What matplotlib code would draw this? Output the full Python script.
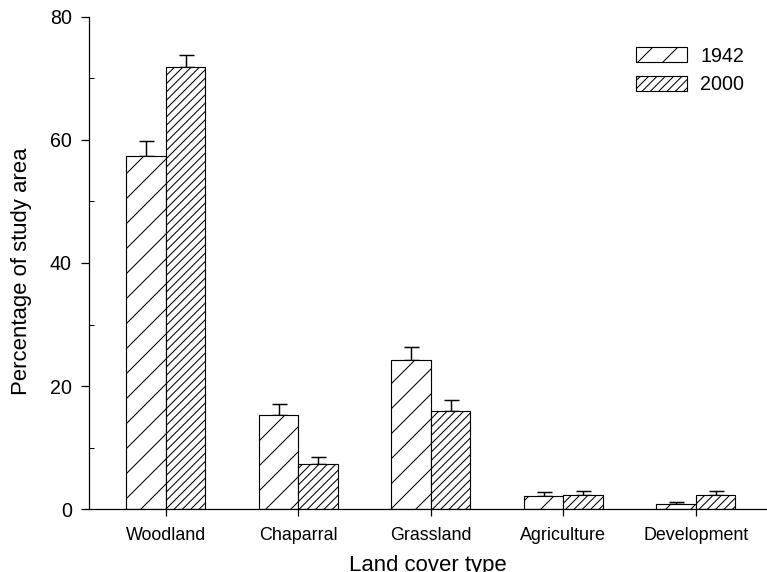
import matplotlib
matplotlib.use("Agg")
import matplotlib.pyplot as plt
import numpy as np

plt.rcParams['font.family'] = ['Liberation Sans', 'DejaVu Sans']
plt.rcParams['hatch.linewidth'] = 0.5

categories = ["Woodland", "Chaparral", "Grassland", "Agriculture", "Development"]
years = ["1942", "2000"]
pct_1942 = [57.4, 15.3, 24.3, 2.05, 0.9]
err_1942 = [2.4, 1.7, 2.1, 0.65, 0.25]
pct_2000 = [71.9, 7.4, 16.0, 2.3, 2.3]
err_2000 = [1.9, 1.0, 1.7, 0.65, 0.6]
y_ticks = [0, 20, 40, 60, 80]

DPI = 150
fig = plt.figure(figsize=(767 / DPI, 572 / DPI), dpi=DPI)
ax = fig.add_axes([0.1157, 0.110, 0.884, 0.8605])

x = np.arange(len(categories))
w = 0.298
lw = 0.55
ax.bar(x - w / 2, pct_1942, w, color='white', edgecolor='black', linewidth=lw,
       hatch='//', label=years[0], zorder=2)
ax.bar(x + w / 2, pct_2000, w, color='white', edgecolor='black', linewidth=lw,
       hatch='//////', label=years[1], zorder=2)
zeros = [0] * len(categories)
ax.errorbar(x - w / 2, pct_1942, yerr=[zeros, err_1942], fmt='none', ecolor='black',
            elinewidth=0.7, capsize=3.6, capthick=0.7, zorder=1)
ax.errorbar(x + w / 2, pct_2000, yerr=[zeros, err_2000], fmt='none', ecolor='black',
            elinewidth=0.7, capsize=3.6, capthick=0.7, zorder=1)

ax.set_xlim(-0.583, 4.536)
ax.set_ylim(0, 80)
ax.set_xticks(x)
ax.set_xticklabels(categories, fontsize=8.6)
ax.set_yticks(y_ticks)
ax.set_yticklabels([str(v) for v in y_ticks], fontsize=9.4)
ax.set_yticks([10, 30, 50, 70], minor=True)
ax.tick_params(axis='y', which='major', direction='out', length=3.8, width=0.6, pad=4.3)
ax.tick_params(axis='y', which='minor', direction='in', length=2.2, width=0.5)
ax.tick_params(axis='x', which='major', direction='out', length=3.4, width=0.6, pad=5.0)

for side in ('top', 'right'):
    ax.spines[side].set_visible(False)
for side in ('left', 'bottom'):
    ax.spines[side].set_linewidth(0.6)

ax.set_ylabel("Percentage of study area", fontsize=10.6)
ax.yaxis.set_label_coords(-0.083, 0.483)
ax.set_xlabel("Land cover type", fontsize=10.6, labelpad=5.5)

ax.legend(loc='upper left', bbox_to_anchor=(626 / 767, 1 - 37 / 572),
          bbox_transform=fig.transFigure, frameon=False, fontsize=9.4,
          handlelength=2.6, handleheight=0.8, handletextpad=0.7,
          labelspacing=0.49, borderpad=0)

fig.savefig("out.png", dpi=DPI)
